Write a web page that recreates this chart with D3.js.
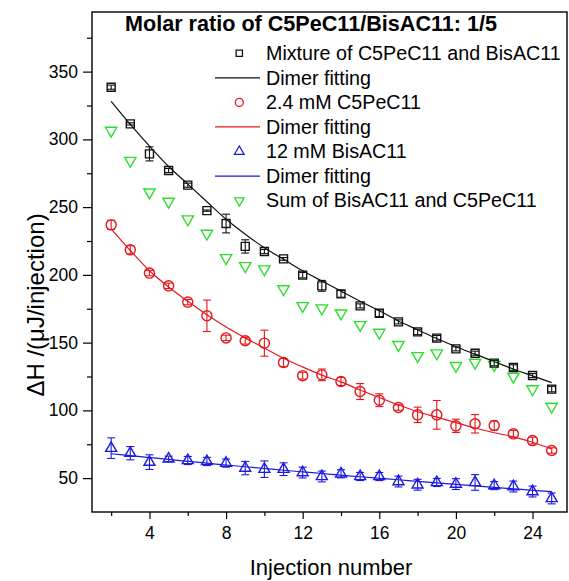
<!DOCTYPE html>
<html>
<head>
<meta charset="utf-8">
<script src="https://cdn.jsdelivr.net/npm/d3@7"></script>
<style>
  body { margin: 0; background: #fff; }
  text { font-family: "Liberation Sans", Arial, sans-serif; fill: #000; }
</style>
</head>
<body>
<div id="chart"></div>
<script>
// injection numbers shared by every series
const injections = [2, 3, 4, 5, 6, 7, 8, 9, 10, 11, 12, 13, 14, 15, 16, 17, 18, 19, 20, 21, 22, 23, 24, 25];

// Mixture of C5PeC11 and BisAC11
const mixture = [338.5, 311.4, 289.3, 277, 266.2, 247.4, 237.9, 221, 217.2, 211.8, 199.8, 191.9,
  186, 177.1, 171.7, 165.3, 157.9, 153.3, 145.4, 142.2, 134.9, 131.6, 125.7, 115.7];
const mixtureErr = [1.5, 0.8, 5.2, 1.5, 1.5, 0.5, 6.9, 4.9, 1.5, 1, 2, 4,
  2.5, 1.5, 2.5, 1.5, 2, 2, 1.5, 1.5, 2, 2, 1.5, 2];
const mixtureFit = [328, 311, 295, 280, 267, 254, 241, 230, 220, 211.5, 203, 195.5,
  188, 180.5, 173.5, 166, 159.5, 153, 147, 141.5, 136, 130.5, 125.5, 120.5];

// 2.4 mM C5PeC11
const c5 = [236.9, 218.5, 201.3, 191.9, 179.9, 169.8, 153.5, 151.4, 149.6, 135.3, 125.6, 126.2,
  121.3, 113.9, 107.5, 102.1, 96.7, 96.7, 88.6, 90.1, 88.8, 82.7, 77.7, 70.4];
const c5Err = [3.4, 3, 2, 2, 2, 11.6, 2, 2.5, 9.6, 3, 2.5, 4.3,
  3, 5.9, 4.7, 2, 5.7, 10.6, 4.9, 6.8, 3.3, 2.5, 2.5, 2];
const c5Fit = [234, 218, 203, 191, 180.5, 170.5, 161.5, 153.5, 146, 138.5, 132, 126,
  121, 115, 109.5, 104, 99, 95, 91, 87, 83.5, 80.5, 76.5, 71.5];

// 12 mM BisAC11
const bis = [72.1, 68.4, 61.8, 64.2, 63, 62.3, 61.1, 57.4, 56.6, 56.6, 54.1, 51.2,
  53.2, 51.2, 51.2, 47.5, 45.1, 46.8, 45.6, 46.8, 44.5, 43.8, 40.1, 35];
const bisErr = [7.6, 4.9, 5.4, 2, 3, 3, 3, 4.9, 6.1, 4.7, 4, 4,
  3, 3, 3, 4, 4, 3, 4, 5.8, 3, 4, 4, 4];
const bisFit = [68, 66.6, 65.2, 63.8, 62.4, 61, 59.7, 58.4, 57.1, 55.8, 54.6, 53.4,
  52.2, 51, 49.9, 48.8, 47.6, 46.5, 45.4, 44.3, 43.2, 42.1, 41, 40];

// Sum of BisAC11 and C5PeC11
const sum = [306.5, 284.3, 261, 254.1, 241.1, 230.5, 212.5, 206.6, 204.2, 189.5, 177.1, 175.4,
  171.7, 163.1, 157.4, 148.4, 140.2, 142.2, 132.9, 135.3, 133.6, 125, 115.7, 102.8];

const xMajor = [4, 8, 12, 16, 20, 24];
const xMinor = [2, 6, 10, 14, 18, 22];
const yMajor = [50, 100, 150, 200, 250, 300, 350];
const yMinor = [75, 125, 175, 225, 275, 325, 375];

const legendLabels = ['Mixture of C5PeC11 and BisAC11', 'Dimer fitting', '2.4 mM C5PeC11',
  'Dimer fitting', '12 mM BisAC11', 'Dimer fitting', 'Sum of BisAC11 and C5PeC11'];

const BLACK = '#111', RED = '#e8161c', BLUE = '#1a1ae0', GREEN = '#2ede2e';

const W = 569, H = 581;
const plot = { left: 92, right: 567, top: 12, bottom: 512 };

const svg = d3.select('#chart').append('svg')
  .attr('width', W).attr('height', H);

const x = d3.scaleLinear().domain([1, 25.8]).range([plot.left, plot.right]);
const y = d3.scaleLinear().domain([25, 394]).range([plot.bottom, plot.top]);

// Axes (ticks only, frame drawn separately)
function styleAxis(g) {
  g.select('.domain').remove();
  g.selectAll('.tick line').attr('stroke', '#000').attr('stroke-width', 1.2);
  g.selectAll('.tick text').style('font-size', '17.5px');
}

svg.append('g').attr('transform', `translate(0,${plot.bottom})`)
  .call(d3.axisBottom(x).tickValues(xMajor).tickSize(7).tickPadding(8))
  .call(styleAxis);
svg.append('g').attr('transform', `translate(0,${plot.bottom})`)
  .call(d3.axisBottom(x).tickValues(xMinor).tickSize(4).tickFormat(''))
  .call(styleAxis);
svg.append('g').attr('transform', `translate(${plot.left},0)`)
  .call(d3.axisLeft(y).tickValues(yMajor).tickSize(9).tickPadding(5))
  .call(styleAxis);
svg.append('g').attr('transform', `translate(${plot.left},0)`)
  .call(d3.axisLeft(y).tickValues(yMinor).tickSize(5).tickFormat(''))
  .call(styleAxis);

svg.append('rect')
  .attr('x', plot.left).attr('y', plot.top)
  .attr('width', plot.right - plot.left).attr('height', plot.bottom - plot.top)
  .attr('fill', 'none').attr('stroke', '#000').attr('stroke-width', 1.4);

// Axis labels
svg.append('text')
  .attr('x', 331).attr('y', 575)
  .attr('text-anchor', 'middle')
  .style('font-size', '22px')
  .text('Injection number');

svg.append('text')
  .attr('transform', 'rotate(-90)')
  .attr('x', -305).attr('y', 44)
  .attr('text-anchor', 'middle')
  .style('font-size', '24px')
  .text('ΔH /(μJ/injection)');

svg.append('text')
  .attr('x', 125).attr('y', 31)
  .style('font-size', '21.6px').style('font-weight', 'bold')
  .text('Molar ratio of C5PeC11/BisAC11: 1/5');

// Marker shapes
const sqr = d3.symbol().type(d3.symbolSquare);
const circ = d3.symbol().type(d3.symbolCircle);
const tri = d3.symbol().type(d3.symbolTriangle);

function markerPath(kind, size) {
  if (kind === 'square') return sqr.size(size)();
  if (kind === 'circle') return circ.size(size)();
  return tri.size(size)();
}

const fitLine = d3.line()
  .x((d, i) => x(injections[i]))
  .y(d => y(d))
  .curve(d3.curveCatmullRom);

function drawFit(values, color) {
  svg.append('path')
    .attr('d', fitLine(values))
    .attr('fill', 'none')
    .attr('stroke', color)
    .attr('stroke-width', 1.2);
}

function drawSeries(values, errs, color, kind, size, rotate) {
  const g = svg.append('g');
  if (errs) {
    values.forEach((v, i) => {
      const cx = x(injections[i]);
      const y1 = y(v - errs[i]), y2 = y(v + errs[i]);
      g.append('line').attr('x1', cx).attr('x2', cx).attr('y1', y1).attr('y2', y2)
        .attr('stroke', color).attr('stroke-width', 1.1);
      [y1, y2].forEach(yy => {
        g.append('line').attr('x1', cx - 4).attr('x2', cx + 4).attr('y1', yy).attr('y2', yy)
          .attr('stroke', color).attr('stroke-width', 1.1);
      });
    });
  }
  g.selectAll('path.pt')
    .data(values)
    .join('path')
    .attr('class', 'pt')
    .attr('d', markerPath(kind, size))
    .attr('transform', (d, i) => `translate(${x(injections[i])},${y(d)}) rotate(${rotate})`)
    .attr('fill', 'none')
    .attr('stroke', color)
    .attr('stroke-width', 1.4);
}

drawFit(mixtureFit, BLACK);
drawFit(c5Fit, RED);
drawFit(bisFit, BLUE);

drawSeries(sum, null, GREEN, 'triangle', 56, 180);
drawSeries(mixture, mixtureErr, BLACK, 'square', 64, 0);
drawSeries(c5, c5Err, RED, 'circle', 80, 0);
drawSeries(bis, bisErr, BLUE, 'triangle', 52, 0);

// Legend
const legendItems = [
  { kind: 'square', color: BLACK, rotate: 0, size: 40 },
  { kind: 'line', color: BLACK },
  { kind: 'circle', color: RED, rotate: 0, size: 50 },
  { kind: 'line', color: RED },
  { kind: 'triangle', color: BLUE, rotate: 0, size: 40 },
  { kind: 'line', color: BLUE },
  { kind: 'triangle', color: GREEN, rotate: 180, size: 40 }
];

const legend = svg.append('g');
legendLabels.forEach((label, i) => {
  const it = legendItems[i];
  const ly = 53.3 + i * 24.55;
  if (it.kind === 'line') {
    legend.append('line')
      .attr('x1', 215).attr('x2', 260).attr('y1', ly).attr('y2', ly)
      .attr('stroke', it.color).attr('stroke-width', 1.2);
  } else {
    legend.append('path')
      .attr('d', markerPath(it.kind, it.size))
      .attr('transform', `translate(239.3,${ly}) rotate(${it.rotate})`)
      .attr('fill', 'none').attr('stroke', it.color).attr('stroke-width', 1.3);
  }
  legend.append('text')
    .attr('x', 266).attr('y', ly).attr('dy', '0.35em')
    .style('font-size', '19.7px')
    .text(label);
});
</script>
</body>
</html>
